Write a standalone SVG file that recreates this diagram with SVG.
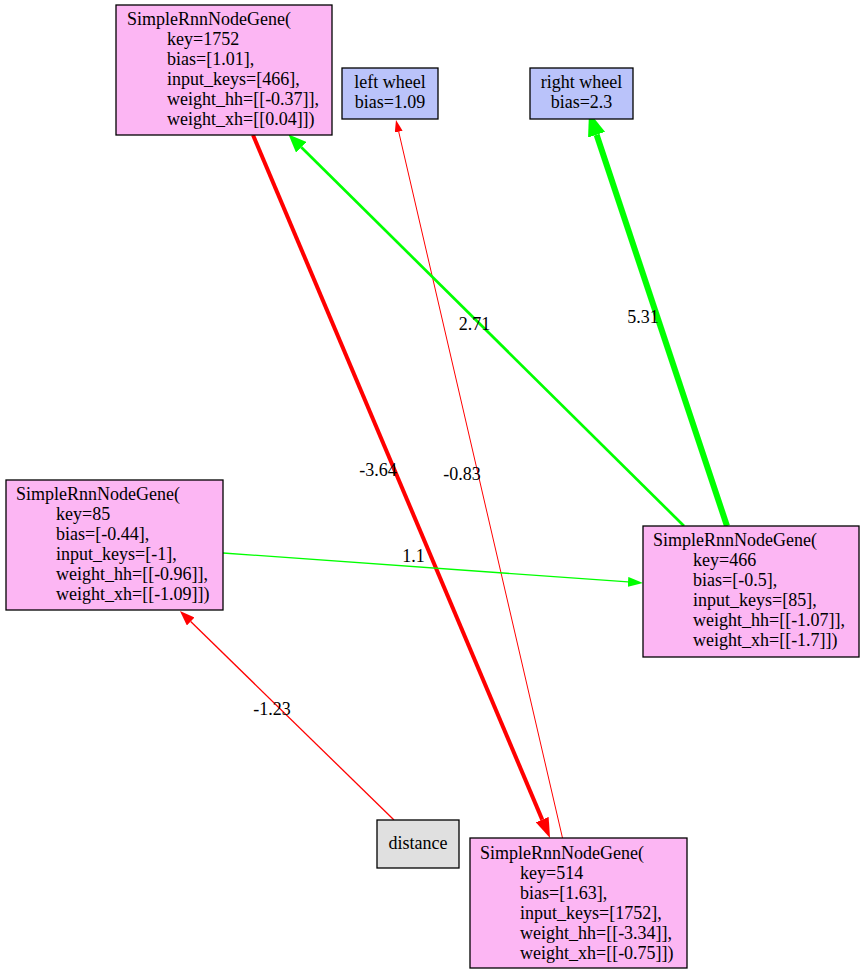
<svg xmlns="http://www.w3.org/2000/svg" width="864" height="975" viewBox="0 0 864 975">
<style>
text{font-family:"Liberation Serif","Times New Roman",serif;font-size:18px;fill:#000}
.gene rect{fill:#fcb6f3;stroke:#000;stroke-width:1.3}
.out rect{fill:#bac3fa;stroke:#000;stroke-width:1.3}
.inp rect{fill:#e0e0e0;stroke:#000;stroke-width:1.3}
.c{text-anchor:middle}
.e{fill:none}
.r{stroke:#ff0000}
.g{stroke:#00ff00}
</style>
<defs>
<marker id="aRedThick" markerUnits="userSpaceOnUse" viewBox="0 -7 20 14" refX="0" refY="0" markerWidth="20" markerHeight="14" orient="auto"><path d="M0,-7L20,0L0,7z" fill="#ff0000"/></marker>
<marker id="aRedThin" markerUnits="userSpaceOnUse" viewBox="0 -4 12 8" refX="0" refY="0" markerWidth="12" markerHeight="8" orient="auto"><path d="M0,-4L12,0L0,4z" fill="#ff0000"/></marker>
<marker id="aRed" markerUnits="userSpaceOnUse" viewBox="0 -5.5 15 11" refX="0" refY="0" markerWidth="15" markerHeight="11" orient="auto"><path d="M0,-5.5L15,0L0,5.5z" fill="#ff0000"/></marker>
<marker id="aGreen" markerUnits="userSpaceOnUse" viewBox="0 -5 15 10" refX="0" refY="0" markerWidth="15" markerHeight="10" orient="auto"><path d="M0,-5L15,0L0,5z" fill="#00ff00"/></marker>
<marker id="aGreenMid" markerUnits="userSpaceOnUse" viewBox="0 -7.5 18 15" refX="0" refY="0" markerWidth="18" markerHeight="15" orient="auto"><path d="M0,-7.5L18,0L0,7.5z" fill="#00ff00"/></marker>
<marker id="aGreenThick" markerUnits="userSpaceOnUse" viewBox="0 -9 24 18" refX="0" refY="0" markerWidth="24" markerHeight="18" orient="auto"><path d="M0,-9L24,0L0,9z" fill="#00ff00"/></marker>
</defs>
<rect width="864" height="975" fill="#fff"/>
<g id="connectors">
<path class="e r" stroke-width="4" d="M253,135L542.2,819.6" marker-end="url(#aRedThick)"/>
<text class="c" x="378" y="476">-3.64</text>
<path class="e r" stroke-width="1" d="M562.5,838L398.7,131.7" marker-end="url(#aRedThin)"/>
<text class="c" x="462" y="480">-0.83</text>
<path class="e g" stroke-width="2.7" d="M684,526L301.3,147.2" marker-end="url(#aGreenMid)"/>
<text class="c" x="474.5" y="330">2.71</text>
<path class="e g" stroke-width="6" d="M727,526L596.6,134.8" marker-end="url(#aGreenThick)"/>
<text class="c" x="643" y="323">5.31</text>
<path class="e g" stroke-width="1.3" d="M223,553L628,581.9" marker-end="url(#aGreen)"/>
<text class="c" x="413.5" y="562">1.1</text>
<path class="e r" stroke-width="1.3" d="M394,820L190.7,621.5" marker-end="url(#aRed)"/>
<text class="c" x="272" y="715">-1.23</text>
</g>
<g id="node1752" class="gene">
<rect x="116" y="5" width="216" height="130"/>
<text x="127" y="25">SimpleRnnNodeGene(</text>
<text x="167" y="45">key=1752</text>
<text x="167" y="65">bias=[1.01],</text>
<text x="167" y="85">input_keys=[466],</text>
<text x="167" y="105">weight_hh=[[-0.37]],</text>
<text x="167" y="125">weight_xh=[[0.04]])</text>
</g>
<g id="leftwheel" class="out">
<rect x="342" y="68" width="96" height="51"/>
<text class="c" x="390" y="88">left wheel</text>
<text class="c" x="390" y="108">bias=1.09</text>
</g>
<g id="rightwheel" class="out">
<rect x="530" y="68" width="103" height="51"/>
<text class="c" x="581.5" y="88">right wheel</text>
<text class="c" x="581.5" y="108">bias=2.3</text>
</g>
<g id="node85" class="gene">
<rect x="6" y="480" width="217" height="130"/>
<text x="16" y="500">SimpleRnnNodeGene(</text>
<text x="56" y="520">key=85</text>
<text x="56" y="540">bias=[-0.44],</text>
<text x="56" y="560">input_keys=[-1],</text>
<text x="56" y="580">weight_hh=[[-0.96]],</text>
<text x="56" y="600">weight_xh=[[-1.09]])</text>
</g>
<g id="node466" class="gene">
<rect x="643" y="526" width="216" height="131"/>
<text x="653" y="546">SimpleRnnNodeGene(</text>
<text x="693" y="566">key=466</text>
<text x="693" y="586">bias=[-0.5],</text>
<text x="693" y="606">input_keys=[85],</text>
<text x="693" y="626">weight_hh=[[-1.07]],</text>
<text x="693" y="646">weight_xh=[[-1.7]])</text>
</g>
<g id="distance" class="inp">
<rect x="377" y="820" width="82" height="48"/>
<text class="c" x="418" y="849">distance</text>
</g>
<g id="node514" class="gene">
<rect x="470" y="838" width="217" height="130"/>
<text x="480" y="859">SimpleRnnNodeGene(</text>
<text x="520" y="879">key=514</text>
<text x="520" y="899">bias=[1.63],</text>
<text x="520" y="919">input_keys=[1752],</text>
<text x="520" y="939">weight_hh=[[-3.34]],</text>
<text x="520" y="959">weight_xh=[[-0.75]])</text>
</g>
</svg>
